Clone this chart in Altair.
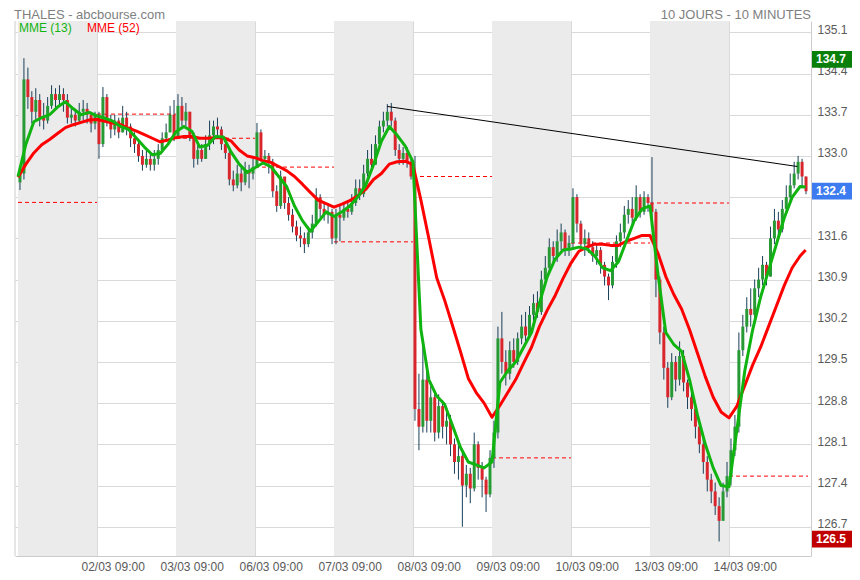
import altair as alt
import pandas as pd

# ---------------- data ----------------
FIRST_OPEN = 132.55

CLOSE = [
    [132.7, 134.3, 134.0, 133.75, 133.95, 133.65, 133.6, 133.85, 134.05, 133.95, 134.05, 133.95, 133.65, 133.7, 133.6, 133.75, 133.8, 133.7, 133.55, 133.68],
    [133.2, 134.0, 133.6, 133.45, 133.6, 133.4, 133.65, 133.5, 133.3, 133.2, 133.0, 132.85, 132.95, 132.85, 132.95, 133.1, 133.3, 133.4, 133.7, 133.3],
    [133.85, 133.6, 133.75, 133.35, 132.95, 133.1, 132.95, 133.2, 133.35, 133.5, 133.45, 133.2, 133.05, 132.6, 132.5, 132.7, 132.55, 132.75, 132.7, 132.81],
    [133.4, 132.95, 133.0, 132.9, 132.4, 132.15, 132.65, 132.2, 132.0, 131.8, 131.65, 131.6, 131.5, 131.7, 131.85, 132.3, 132.1, 132.0, 132.05, 131.6],
    [132.0, 131.95, 132.1, 132.05, 132.2, 132.45, 132.35, 132.7, 132.95, 132.85, 133.2, 133.5, 133.6, 133.75, 133.6, 133.1, 132.95, 133.05, 132.9, 132.65],
    [128.7, 128.4, 129.2, 128.5, 128.9, 128.3, 128.75, 128.4, 128.5, 128.1, 127.8, 127.9, 127.4, 127.6, 127.35, 128.1, 127.7, 127.5, 127.25, 127.87],
    [128.3, 129.9, 129.5, 129.3, 129.7, 129.5, 129.9, 130.1, 129.95, 130.3, 130.5, 130.35, 130.9, 131.1, 131.45, 131.3, 131.55, 131.7, 131.4, 131.52],
    [132.3, 131.85, 131.5, 131.6, 131.45, 131.3, 131.4, 131.15, 130.95, 130.8, 131.2, 131.55, 131.7, 132.0, 132.1, 131.95, 132.3, 132.05, 132.3, 132.2],
    [132.05, 130.9, 130.0, 129.4, 128.9, 129.5, 129.2, 129.6, 129.15, 128.9, 128.7, 128.4, 128.1, 127.8, 127.5, 127.3, 127.05, 126.8, 127.3, 127.56],
    [128.0, 128.4, 129.7, 130.1, 130.4, 130.3, 130.75, 130.9, 131.15, 130.95, 131.6, 131.9, 131.75, 132.1, 132.3, 132.5, 132.7, 132.9, 132.65, 132.4],
]
HIGH = [
    [132.8, 134.66, 134.5, 134.1, 134.15, 134.05, 133.9, 134.0, 134.2, 134.15, 134.2, 134.15, 134.05, 133.85, 133.8, 133.9, 133.95, 133.9, 133.75, 133.75],
    [133.75, 134.17, 134.05, 133.7, 133.7, 133.65, 133.85, 133.75, 133.55, 133.4, 133.25, 133.1, 133.1, 133.05, 133.1, 133.2, 133.4, 133.55, 133.85, 133.95],
    [134.05, 134.0, 133.9, 133.75, 133.4, 133.2, 133.2, 133.35, 133.6, 133.6, 133.65, 133.5, 133.3, 133.1, 132.75, 132.85, 132.8, 132.9, 132.85, 132.95],
    [133.56, 133.45, 133.1, 133.05, 132.95, 132.5, 132.75, 132.6, 132.3, 132.1, 131.9, 131.8, 131.7, 131.8, 132.0, 132.45, 132.35, 132.2, 132.2, 132.1],
    [132.1, 132.15, 132.2, 132.25, 132.35, 132.6, 132.6, 132.85, 133.1, 133.2, 133.35, 133.6, 133.75, 133.88, 133.9, 133.65, 133.2, 133.15, 133.15, 133.0],
    [133.0, 129.3, 129.82, 129.4, 129.15, 129.0, 128.95, 128.85, 128.7, 128.6, 128.2, 128.1, 128.0, 127.75, 127.7, 128.3, 128.15, 127.8, 127.55, 128.0],
    [128.5, 130.1, 130.35, 129.7, 129.85, 129.9, 130.0, 130.3, 130.35, 130.45, 130.65, 130.7, 131.05, 131.3, 131.6, 131.55, 131.75, 131.85, 131.75, 131.65],
    [132.45, 132.35, 131.9, 131.75, 131.7, 131.55, 131.5, 131.45, 131.2, 131.0, 131.3, 131.65, 131.85, 132.15, 132.25, 132.3, 132.5, 132.35, 132.4, 132.35],
    [132.98, 132.1, 130.95, 130.1, 129.5, 129.65, 129.6, 129.85, 129.7, 129.2, 129.0, 128.8, 128.5, 128.2, 127.9, 127.6, 127.45, 127.2, 127.45, 127.8],
    [128.2, 128.6, 130.0, 130.3, 130.6, 130.75, 130.9, 131.1, 131.3, 131.2, 131.8, 132.1, 132.05, 132.25, 132.5, 132.7, 132.9, 133.0, 132.95, 132.65],
]
LOW = [
    [132.42, 132.6, 133.8, 133.55, 133.6, 133.5, 133.45, 133.55, 133.8, 133.8, 133.85, 133.75, 133.55, 133.55, 133.5, 133.55, 133.6, 133.55, 133.4, 133.45],
    [132.95, 133.15, 133.5, 133.3, 133.35, 133.3, 133.4, 133.35, 133.15, 133.05, 132.9, 132.75, 132.8, 132.75, 132.75, 132.85, 133.05, 133.25, 133.4, 133.25],
    [133.3, 133.5, 133.5, 133.25, 132.8, 132.85, 132.9, 132.95, 133.1, 133.2, 133.3, 133.1, 132.95, 132.5, 132.4, 132.45, 132.4, 132.5, 132.45, 132.6],
    [132.8, 132.9, 132.85, 132.7, 132.3, 132.05, 132.1, 132.1, 131.9, 131.7, 131.55, 131.45, 131.35, 131.45, 131.6, 131.8, 131.95, 131.9, 131.85, 131.5],
    [131.5, 131.55, 131.9, 131.95, 132.0, 132.15, 132.25, 132.3, 132.65, 132.75, 132.85, 133.15, 133.4, 133.5, 133.5, 133.0, 132.85, 132.85, 132.8, 132.6],
    [128.5, 128.0, 128.3, 128.3, 128.3, 128.15, 128.2, 128.2, 128.1, 127.9, 127.6, 127.5, 126.7, 127.2, 127.1, 127.3, 127.5, 127.2, 126.95, 127.2],
    [127.7, 128.2, 129.3, 129.1, 129.2, 129.4, 129.45, 129.8, 129.85, 129.9, 130.2, 130.25, 130.3, 130.8, 131.0, 131.15, 131.2, 131.4, 131.3, 131.3],
    [131.4, 131.7, 131.4, 131.3, 131.35, 131.2, 131.15, 131.0, 130.8, 130.55, 130.75, 131.1, 131.45, 131.6, 131.85, 131.85, 131.9, 131.95, 132.0, 132.05],
    [131.9, 130.6, 129.8, 129.2, 128.72, 128.85, 129.0, 129.1, 129.0, 128.7, 128.5, 128.2, 127.95, 127.6, 127.3, 127.1, 126.9, 126.45, 126.9, 127.2],
    [127.4, 127.9, 128.3, 129.6, 130.0, 130.1, 130.25, 130.6, 130.8, 130.8, 130.95, 131.5, 131.6, 131.7, 132.0, 132.2, 132.45, 132.6, 132.45, 132.35],
]

# moving averages, ten points per day
MME13 = [
    [132.65, 133.2, 133.58, 133.65, 133.7, 133.83, 133.92, 133.8, 133.7, 133.74],
    [133.68, 133.64, 133.59, 133.5, 133.45, 133.3, 133.15, 133.02, 133.04, 133.2],
    [133.41, 133.5, 133.42, 133.15, 133.18, 133.33, 133.32, 133.06, 132.86, 132.72],
    [132.8, 132.88, 132.82, 132.65, 132.48, 132.15, 131.9, 131.72, 131.88, 132.05],
    [131.97, 132.05, 132.15, 132.3, 132.5, 132.85, 133.25, 133.5, 133.35, 133.17],
    [132.9, 130.05, 129.2, 128.92, 128.78, 128.42, 128.05, 127.8, 127.75, 127.7],
    [127.8, 129.15, 129.35, 129.5, 129.75, 130.0, 130.5, 130.95, 131.25, 131.4],
    [131.42, 131.45, 131.42, 131.3, 131.1, 131.05, 131.2, 131.55, 131.9, 132.1],
    [132.15, 131.0, 130.0, 129.8, 129.68, 129.2, 128.6, 128.1, 127.7, 127.4],
    [127.38, 128.35, 129.35, 130.05, 130.6, 131.05, 131.5, 131.95, 132.3, 132.48],
]
MME52 = [
    [132.64, 132.86, 133.05, 133.19, 133.28, 133.38, 133.48, 133.53, 133.57, 133.61],
    [133.62, 133.59, 133.56, 133.53, 133.47, 133.42, 133.36, 133.3, 133.24, 133.27],
    [133.31, 133.33, 133.33, 133.3, 133.3, 133.31, 133.31, 133.25, 133.1, 133.0],
    [132.97, 132.92, 132.89, 132.82, 132.75, 132.65, 132.52, 132.38, 132.25, 132.19],
    [132.13, 132.18, 132.24, 132.32, 132.43, 132.6, 132.7, 132.86, 132.9, 132.91],
    [132.85, 132.25, 131.6, 130.93, 130.55, 130.12, 129.68, 129.22, 128.98, 128.8],
    [128.56, 128.76, 128.98, 129.2, 129.48, 129.75, 130.1, 130.38, 130.63, 130.92],
    [131.18, 131.38, 131.45, 131.5, 131.5, 131.48, 131.48, 131.55, 131.6, 131.65],
    [131.65, 131.35, 130.95, 130.65, 130.4, 130.05, 129.65, 129.25, 128.9, 128.65],
    [128.55, 128.75, 129.1, 129.45, 129.75, 130.1, 130.45, 130.8, 131.1, 131.3],
]
MME13_LAST = 132.47
MME52_LAST = 131.4

PREV_CLOSE = [132.21, 133.71, 133.3, 132.81, 131.54, 132.65, 127.87, 131.52, 132.2, 127.56]

TREND_T = [4.675, 9.865]
TREND_P = [133.84, 132.82]

X_LABELS = ["02/03 09:00", "03/03 09:00", "06/03 09:00", "07/03 09:00", "08/03 09:00",
            "09/03 09:00", "10/03 09:00", "13/03 09:00", "14/03 09:00"]
Y_TICKS = [135.1, 134.4, 133.7, 133.0, 132.3, 131.6, 130.9, 130.2, 129.5, 128.8, 128.1, 127.4, 126.7]
Y_HIDDEN = 132.3  # label hidden behind the current-price box

BOX_TEXT = ["134.7", "132.4", "126.5"]
BOX_PRICE = [134.64, 132.4, 126.49]
BOX_COLOR = ["#0a7f0a", "#3d7cf0", "#c00000"]

# ---------------- tables ----------------
rows = []
prev = FIRST_OPEN
for d in range(10):
    for k in range(20):
        c = CLOSE[d][k]
        rows.append({"t": d + (k + 0.5) / 20, "o": prev, "c": c,
                     "h": HIGH[d][k], "l": LOW[d][k],
                     "dir": "up" if c >= prev else "down"})
        prev = c
candles = pd.DataFrame(rows)

ema_rows = []
for d in range(10):
    for j in range(10):
        ema_rows.append({"t": d + j / 10, "g": MME13[d][j], "r": MME52[d][j]})
ema_rows.append({"t": 9.97, "g": MME13_LAST, "r": MME52_LAST})
ema = pd.DataFrame(ema_rows)

bands = pd.DataFrame({"t0": [0, 2, 4, 6, 8], "t1": [1, 3, 5, 7, 9]})
prevc = pd.DataFrame({"t0": list(range(10)), "t1": [d + 1 for d in range(10)], "p": PREV_CLOSE})
trend = pd.DataFrame({"ta": [TREND_T[0]], "tb": [TREND_T[1]], "pa": [TREND_P[0]], "pb": [TREND_P[1]]})
HALF = 0.142
boxes = pd.DataFrame({"label": BOX_TEXT, "p": BOX_PRICE,
                      "top": [p + HALF for p in BOX_PRICE], "bot": [p - HALF for p in BOX_PRICE],
                      "col": BOX_COLOR})

# ---------------- scales / axes ----------------
FONT = "Liberation Sans"
W, H = 796, 535
xscale = alt.Scale(domain=[-0.038, 10.038], nice=False, zero=False, padding=0)
yscale = alt.Scale(domain=[126.203, 135.292], nice=False, zero=False, padding=0)
label_expr = "[" + ",".join("'" + s + "'" for s in X_LABELS) + "][datum.value - 1]"
xaxis = alt.Axis(values=list(range(1, 10)), labelExpr=label_expr, title=None,
                 grid=True, gridColor="#d9d9d9", ticks=False, domainColor="#cccccc",
                 labelAlign="left", labelOffset=-16, labelPadding=5,
                 labelFont=FONT, labelFontSize=12, labelColor="#5a5a5a")
yaxis = alt.Axis(orient="right", values=Y_TICKS, title=None,
                 labelExpr=f"abs(datum.value - {Y_HIDDEN}) < 0.001 ? '' : format(datum.value, '.1f')",
                 grid=True, gridColor="#d9d9d9", ticks=False, domainColor="#cccccc",
                 labelPadding=6, labelBaseline="middle", labelOffset=-3,
                 labelFont=FONT, labelFontSize=12, labelColor="#5a5a5a")


def X(f):
    return alt.X(f, type="quantitative", scale=xscale, axis=xaxis)


def Y(f):
    return alt.Y(f, type="quantitative", scale=yscale, axis=yaxis)


band_layer = alt.Chart(bands).mark_rect(color="#ebebeb").encode(
    x=X("t0"), x2="t1", y=alt.value(0), y2=alt.value(H))

one = pd.DataFrame({"a": [0]})
left_line = alt.Chart(one).mark_rule(color="#cccccc").encode(
    x=alt.value(0), y=alt.value(0), y2=alt.value(H))

prev_layer = alt.Chart(prevc).mark_rule(color="#ff0000", strokeDash=[4, 3], strokeWidth=1).encode(
    x=X("t0"), x2="t1", y=Y("p"))

wicks = alt.Chart(candles).mark_rule(color="#1a3f58", strokeWidth=1).encode(
    x=X("t"), y=Y("l"), y2="h")

bodies = alt.Chart(candles).mark_bar(size=3).encode(
    x=X("t"), y=Y("o"), y2="c",
    color=alt.Color("dir:N", scale=alt.Scale(domain=["up", "down"], range=["#279a35", "#d9262c"]), legend=None))

red_line = alt.Chart(ema).mark_line(color="#ff0000", strokeWidth=3, strokeJoin="round").encode(
    x=X("t"), y=Y("r"))
green_line = alt.Chart(ema).mark_line(color="#10b410", strokeWidth=3, strokeJoin="round").encode(
    x=X("t"), y=Y("g"))

trend_layer = alt.Chart(trend).mark_rule(color="#000000", strokeWidth=1).encode(
    x=X("ta"), x2="tb", y=Y("pa"), y2="pb")


def txt(s, x, y, color, size=12, align="left", weight="normal"):
    return alt.Chart(pd.DataFrame({"s": [s]})).mark_text(
        align=align, baseline="middle", font=FONT, fontSize=size, color=color, fontWeight=weight
    ).encode(x=alt.value(x), y=alt.value(y), text="s:N")


leg1 = txt("MME (13)", 4, 7, "#10b410")
leg2 = txt("MME (52)", 72, 7, "#ff0000")
head1 = txt("THALES - abcbourse.com", -1, -6, "#7f7f7f", size=13)
head2 = txt("10 JOURS - 10 MINUTES", W, -6, "#7f7f7f", size=13, align="right")

box_rect = alt.Chart(boxes).mark_rect().encode(
    x=alt.value(W + 1), x2=alt.value(W + 49), y=Y("top"), y2="bot",
    color=alt.Color("col:N", scale=None))
box_text = alt.Chart(boxes).mark_text(
    align="left", baseline="middle", font=FONT, fontSize=12, fontWeight="bold", color="white"
).encode(x=alt.value(W + 5), y=Y("p"), text="label:N")

chart = alt.layer(
    band_layer, left_line, prev_layer, wicks, bodies, red_line, green_line, trend_layer,
    leg1, leg2, head1, head2, box_rect, box_text
).properties(
    width=W, height=H,
    padding={"left": 7, "top": 13, "right": 41, "bottom": 16},
    autosize=alt.AutoSizeParams(type="none"),
    background="white",
).configure_view(stroke=None)

chart.save("out.html", embed_options={"renderer": "svg", "actions": False})
